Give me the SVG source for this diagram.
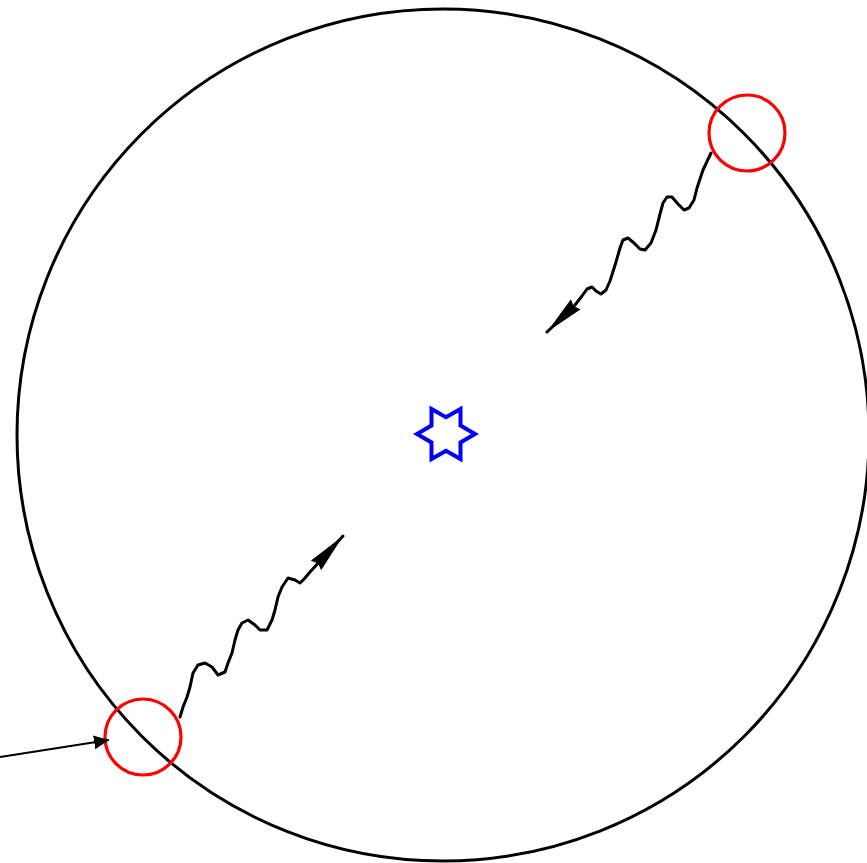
<svg xmlns="http://www.w3.org/2000/svg" width="867" height="863" viewBox="0 0 867 863">
<style>
.outline{fill:none;stroke:#000;stroke-width:3}
.mark{fill:none;stroke:#ff0000;stroke-width:3.2}
.star{fill:none;stroke:#0000ff;stroke-width:4;stroke-linejoin:miter}
.wave{fill:none;stroke:#000;stroke-width:3;stroke-linejoin:round;stroke-linecap:round}
.pointer{fill:none;stroke:#000;stroke-width:2}
</style>
<defs>
<marker id="photonHead" markerUnits="userSpaceOnUse" viewBox="0 0 40 16" markerWidth="40" markerHeight="16" refX="40" refY="8" orient="auto">
<path d="M0,1 L40,8 L0,15 L3,8 Z" fill="#000"/>
</marker>
<marker id="pointerHead" markerUnits="userSpaceOnUse" viewBox="0 0 15 14" markerWidth="15" markerHeight="14" refX="15" refY="7" orient="auto">
<path d="M0,0 L15,7 L0,14 Z" fill="#000"/>
</marker>
</defs>
<g id="sphere">
<circle class="outline" cx="443" cy="435" r="426"/>
</g>
<g id="marker-top-right">
<circle class="mark" cx="747" cy="133" r="38"/>
</g>
<g id="marker-bottom-left">
<circle class="mark" cx="143" cy="737" r="38"/>
</g>
<g id="source">
<path class="star" d="M475,434 L460.5,442.4 L460.5,459.1 L446,450.7 L431.5,459.1 L431.5,442.4 L417,434 L431.5,425.6 L431.5,408.9 L446,417.3 L460.5,408.9 L460.5,425.6 Z"/>
</g>
<g id="connectors">
<path class="wave" marker-end="url(#photonHead)" d="M711,153 L703,170 L697,188 L694,200 L689,208 L684,210 L678,204 L672,197 L667,197 L663,203 L660,214 L656,230 L651,243 L645,250 L640,249 L634,243 L628,238 L623,240 L620,248 L616,262 L610,281 L606,290 L601,294 L596,291 L592,287 L587,289 L582,296 L575,305 L547,332"/>
<path class="wave" marker-end="url(#photonHead)" d="M180,717 L183,707 L187,697 L190,687 L193,673 L198,665 L205,663 L212,667 L218,675 L225,672 L228,663 L232,653 L235,640 L238,630 L242,623 L248,620 L255,625 L260,630 L267,630 L272,620 L275,610 L278,597 L282,587 L288,578 L295,580 L300,583 L305,578 L310,572 L343,536"/>
<path class="pointer" marker-end="url(#pointerHead)" d="M0,757 L109,740"/>
</g>
</svg>
